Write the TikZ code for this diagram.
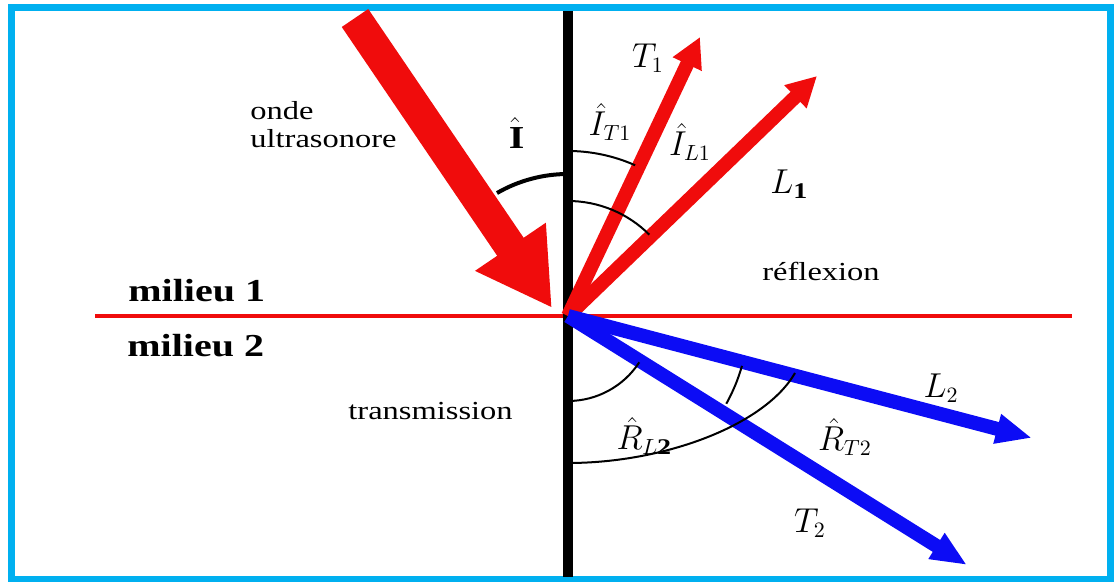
\documentclass[tikz,border=0pt]{standalone}
\usepackage{fontspec}
\setmainfont{Liberation Serif}[FakeStretch=1.25]
\usetikzlibrary{arrows.meta}

\definecolor{raycol}{RGB}{240,12,12}
\definecolor{transcol}{RGB}{12,12,245}
\definecolor{framecol}{RGB}{0,176,240}

\begin{document}
\begin{tikzpicture}[x=0.5pt, y=-0.5pt,
        every node/.style={inner sep=0pt, font=\fontsize{13}{15}\selectfont},
        milieu/.style={font=\fontsize{16}{18}\selectfont\bfseries},
        sym/.style={font=\fontsize{16}{18}\selectfont},
        incident/.style={raycol, line width=16pt, -{Triangle[length=37pt, width=40pt]}},
        reflray/.style={raycol, line width=7pt, -{Triangle[length=15pt, width=15pt]}},
        transray/.style={transcol, line width=7pt, -{Triangle[length=18pt, width=14pt]}},
        anglemark/.style={black, line width=1pt}]
        \useasboundingbox (0,0) rectangle (1114,582);
        \draw[framecol, line width=3.5pt] (11.5,7.5) rectangle (1110.5,579.5);

        % interface and normal
        \coordinate (O) at (568,316);
        \coordinate (left) at (95,316);
        \coordinate (right) at (1072,316);
        \coordinate (top) at (568,11);
        \coordinate (bottom) at (568,577);
        \draw[raycol, line width=2pt] (left) -- (right);
        \draw[black, line width=5pt] (top) -- (bottom);

        % rays
        \coordinate (src) at (355,18);
        \coordinate (hit) at (552,308);
        \coordinate (T1) at (700,37);
        \coordinate (L1) at (817,76);
        \coordinate (L2) at (1032,438);
        \coordinate (T2) at (967,565);
        \draw[incident] (src) -- (hit);
        \draw[reflray] (O) -- (T1);
        \draw[reflray] (O) -- (L1);
        \draw[transray] (O) -- (L2);
        \draw[transray] (O) -- (T2);

        % angles
        \draw[anglemark, line width=2pt] (O) ++(-90:142) arc[start angle=-90, end angle=-120, radius=142];
        \draw[anglemark] (O) ++(-90:165) arc[start angle=-90, end angle=-66, radius=165];
        \draw[anglemark] (O) ++(-90:115) arc[start angle=-90, end angle=-45, radius=115];
        \draw[anglemark] (O) ++(90:85) arc[start angle=90, end angle=33, radius=85];
        \draw[anglemark] (O) ++(29:181) arc[start angle=29, end angle=16, radius=181];
        \draw[anglemark] (568,463) .. controls (665,463) and (765,425) .. (795,373);

        % labels
        \node[anchor=base west] (onde) at (250,120) {onde};
        \node[anchor=base west] (ultra) at (250,148) {ultrasonore};
        \node[sym] (Ihat) at (515,133) {$\hat{\mathbf{I}}$};
        \node[sym] (labT1) at (648,58) {$T_1$};
        \node[sym] (angT1) at (610,122) {$\hat{I}_{T1}$};
        \node[sym] (angL1) at (690,142) {$\hat{I}_{L1}$};
        \node[sym] (labL1) at (788,184) {$L_{\mathbf{1}}$};
        \node[anchor=base west] (refl) at (762,281) {réflexion};
        \node[milieu, anchor=base west] (m1) at (128,302) {milieu 1};
        \node[milieu, anchor=base west] (m2) at (127,357) {milieu 2};
        \node[anchor=base west] (trans) at (348,420) {transmission};
        \node[sym] (labL2) at (941,388) {$L_2$};
        \node[sym] (angL2) at (643,436) {$\hat{R}_{L\mathbf{2}}$};
        \node[sym] (angT2) at (845,437) {$\hat{R}_{T2}$};
        \node[sym] (labT2) at (810,523) {$T_2$};
    \end{tikzpicture}
\end{document}
